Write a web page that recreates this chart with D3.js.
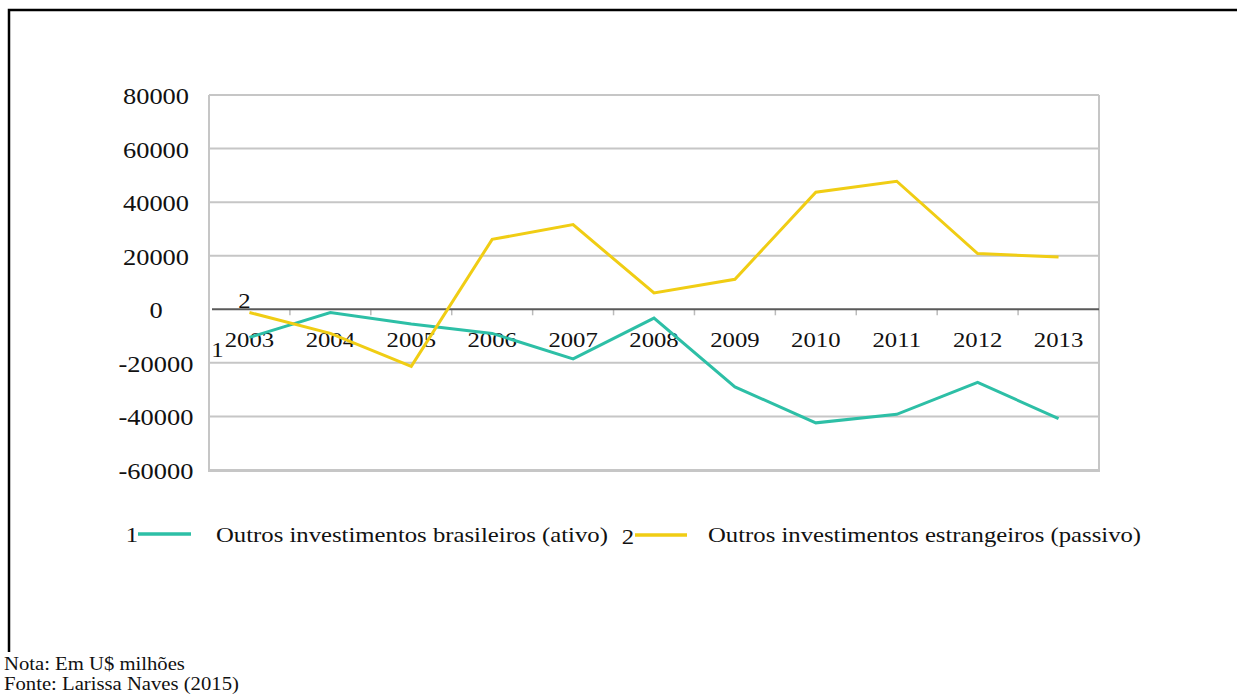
<!DOCTYPE html>
<html>
<head>
<meta charset="utf-8">
<script src="https://cdn.jsdelivr.net/npm/d3@7"></script>
<style>
  body { margin: 0; background: #fff; }
  text { font-family: "Liberation Serif", "Times New Roman", serif; fill: #111; }
</style>
</head>
<body>
<div id="chart"></div>
<script>
var years = ["2003", "2004", "2005", "2006", "2007", "2008", "2009", "2010", "2011", "2012", "2013"];
var ativo = [-10500, -1200, -5500, -9000, -18500, -3300, -29000, -42400, -39200, -27300, -40800];
var passivo = [-1200, -9000, -21300, 26100, 31600, 6100, 11200, 43700, 47800, 20800, 19500];
var yTicks = [80000, 60000, 40000, 20000, 0, -20000, -40000, -60000];
var seriesNames = ["Outros investimentos brasileiros (ativo)", "Outros investimentos estrangeiros (passivo)"];
var notes = ["Nota: Em U$ milhões", "Fonte: Larissa Naves (2015)"];

var width = 1237;
var height = 695;
var sx = 1.15; // source image is stretched sideways a bit
var teal = "#2dbfa6";
var yellow = "#f0cd14";

var svg = d3.select("#chart")
  .append("svg")
  .attr("width", width)
  .attr("height", height);

// outer frame (top and left only)
svg.append("path")
  .attr("d", "M9,652 V10 H1237")
  .attr("fill", "none")
  .attr("stroke", "#000")
  .attr("stroke-width", 2.5);

var x = d3.scaleBand().domain(years).range([209, 1099]);
var y = d3.scaleLinear().domain([-60000, 80000]).range([470, 95]);

function cx(d) { return x(d) + x.bandwidth() / 2; }

function stretchText(g, tx, ty, size, str, anchor) {
  return g.append("text")
    .attr("transform", "translate(" + tx + "," + ty + ") scale(" + sx + ",1)")
    .attr("font-size", size)
    .attr("text-anchor", anchor || "middle")
    .text(str);
}

// gridlines
svg.append("g").selectAll("line")
  .data(yTicks.filter(function(d) { return d !== 0; }))
  .enter()
  .append("line")
  .attr("x1", 209)
  .attr("x2", 1099)
  .attr("y1", function(d) { return y(d); })
  .attr("y2", function(d) { return y(d); })
  .attr("stroke", "#c6c6c6")
  .attr("stroke-width", 2);

// plot border
svg.append("path")
  .attr("d", "M209," + y(80000) + " V" + (y(-60000) + 1) + " H1099 V" + y(80000))
  .attr("fill", "none")
  .attr("stroke", "#c6c6c6")
  .attr("stroke-width", 2);

// y labels
var yLab = svg.append("g");
yTicks.forEach(function(t) {
  stretchText(yLab, 156, y(t) + 9, 23, t);
});

// zero axis with category ticks
var xAxis = svg.append("g");
xAxis.selectAll("line.tk")
  .data(years.slice(1))
  .enter()
  .append("line")
  .attr("x1", function(d) { return x(d); })
  .attr("x2", function(d) { return x(d); })
  .attr("y1", y(0))
  .attr("y2", y(0) + 6)
  .attr("stroke", "#bbb")
  .attr("stroke-width", 1.5);
xAxis.append("line")
  .attr("x1", 212)
  .attr("x2", 1099)
  .attr("y1", y(0))
  .attr("y2", y(0))
  .attr("stroke", "#5a5a5a")
  .attr("stroke-width", 2);
years.forEach(function(yr) {
  stretchText(xAxis, cx(yr), y(0) + 38, 21.5, yr);
});

// lines
var line = d3.line()
  .x(function(d, i) { return cx(years[i]); })
  .y(function(d) { return y(d); });

svg.append("path")
  .datum(ativo)
  .attr("d", line)
  .attr("fill", "none")
  .attr("stroke", teal)
  .attr("stroke-width", 3);

svg.append("path")
  .datum(passivo)
  .attr("d", line)
  .attr("fill", "none")
  .attr("stroke", yellow)
  .attr("stroke-width", 3);

// series number labels at first point
stretchText(svg, cx(years[0]) - 32, y(ativo[0]) + 20, 21.5, "1");
stretchText(svg, cx(years[0]) - 5, y(passivo[0]) - 5, 21.5, "2");

// legend
var leg = svg.append("g");
stretchText(leg, 132, 542, 21.5, "1");
leg.append("line")
  .attr("x1", 138).attr("x2", 191)
  .attr("y1", 534).attr("y2", 534)
  .attr("stroke", teal).attr("stroke-width", 3.5);
stretchText(leg, 216, 542, 21.5, seriesNames[0], "start");
stretchText(leg, 628, 544, 21.5, "2");
leg.append("line")
  .attr("x1", 635).attr("x2", 687)
  .attr("y1", 535).attr("y2", 535)
  .attr("stroke", yellow).attr("stroke-width", 3.5);
stretchText(leg, 708, 542, 21.5, seriesNames[1], "start");

// notes
stretchText(svg, 4, 670, 18, notes[0], "start");
stretchText(svg, 4, 690, 18, notes[1], "start");
</script>
</body>
</html>
